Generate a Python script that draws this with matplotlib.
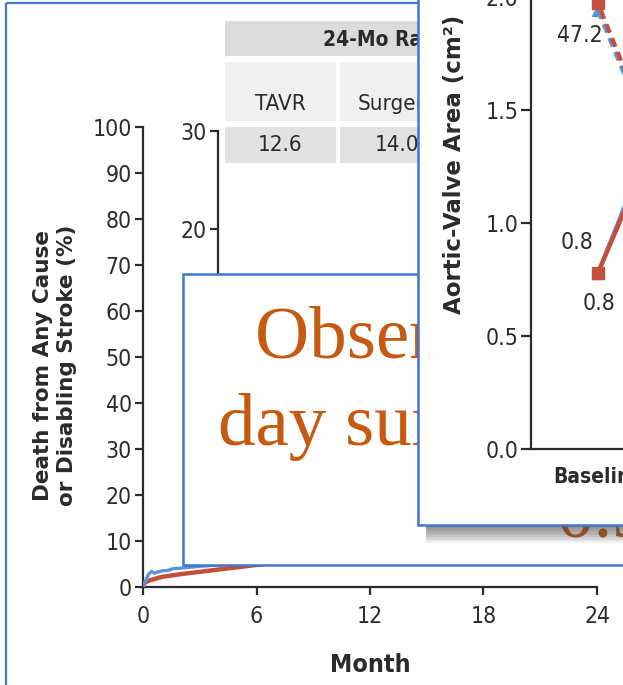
import matplotlib
matplotlib.use("Agg")
import matplotlib.pyplot as plt
from matplotlib.patches import Rectangle

W, H = 623, 685
DPI = 100

# ---------------- data ----------------
months_red = [0, 0.1, 0.4, 1, 2, 3, 4, 5, 6, 9, 12, 18, 24]
rate_red = [0, 1.0, 1.5, 2.2, 2.8, 3.3, 3.8, 4.3, 4.8, 6.5, 8.5, 11.0, 14.0]
months_blue = [0, 0.15, 0.3, 0.45, 0.6, 0.8, 1.0, 1.3, 1.6, 2.0, 2.5, 3, 4, 6, 12, 18, 24]
rate_blue = [0, 1.5, 2.8, 3.4, 3.0, 3.3, 3.5, 3.6, 4.0, 4.1, 4.3, 4.5, 4.8, 5.5, 8.0, 10.5, 12.6]

main_yticks = [0, 10, 20, 30, 40, 50, 60, 70, 80, 90, 100]
inset_yticks = [0, 10, 20, 30]
month_ticks = [0, 6, 12, 18, 24]

table_header = "24-Mo Rate (%)"
table_cols = ["TAVR", "Surgery"]
table_vals = ["12.6", "14.0"]

ava_cats = ["Baseline", "30 Days", "1 Yr", "2 Yr"]
ava_blue = [0.78, 1.72, 1.70, 1.66]
ava_red = [0.78, 1.65, 1.62, 1.58]
grad_blue = [47.2, 12.0, 11.5, 11.0]
grad_red = [48.4, 12.5, 12.0, 11.8]
ava_yticks = [0.0, 0.5, 1.0, 1.5, 2.0]

overlay_lines = ["Observed 30-", "day surgical mortality", "0.3%"]

# ---------------- style ----------------
NF = dict(family="DejaVu Sans", fontstretch="condensed")
SERIF = ["Liberation Serif", "DejaVu Serif"]
RED = "#C4503C"
BLUE = "#5B95D3"
BORDER = "#3F77D0"
ORANGE = "#C55A11"
INK = "#2B2B2B"

fig = plt.figure(figsize=(W / DPI, H / DPI), dpi=DPI)
fig.patch.set_facecolor("white")


def ax_px(x0, y0, x1, y1, z):
    a = fig.add_axes([x0 / W, 1 - y1 / H, (x1 - x0) / W, (y1 - y0) / H])
    a.set_zorder(z)
    a.patch.set_visible(False)
    return a


def overlay(z):
    a = fig.add_axes([0, 0, 1, 1])
    a.set_xlim(0, W)
    a.set_ylim(H, 0)
    a.axis("off")
    a.set_zorder(z)
    a.patch.set_visible(False)
    return a


def narrow(labels, weight="normal"):
    for lab in labels:
        lab.set_family(NF["family"])
        lab.set_fontstretch(NF["fontstretch"])
        lab.set_fontweight(weight)


# ---------- background layer: outer frame + table + axis titles ----------
bg = overlay(0)
bg.add_patch(Rectangle((6, 3), 900, 900, fill=False, ec=BORDER, lw=1.6))
bg.add_patch(Rectangle((225, 21), 500, 35, fc="#DCDCDC", ec="none"))
bg.add_patch(Rectangle((225, 62), 111, 59, fc="#F0F0F0", ec="none"))
bg.add_patch(Rectangle((340, 62), 114, 59, fc="#F0F0F0", ec="none"))
bg.add_patch(Rectangle((225, 127), 111, 36, fc="#E2E2E2", ec="none"))
bg.add_patch(Rectangle((340, 127), 114, 36, fc="#E2E2E2", ec="none"))
bg.text(323, 40, table_header, ha="left", va="center", fontsize=15,
        fontweight="bold", color=INK, **NF)
for cx, c, v in zip([280, 397], table_cols, table_vals):
    bg.text(cx, 104, c, ha="center", va="center", fontsize=16, color=INK, **NF)
    bg.text(cx, 145, v, ha="center", va="center", fontsize=16, color=INK, **NF)
bg.text(55, 365, "Death from Any Cause\nor Disabling Stroke (%)", rotation=90,
        ha="center", va="center", fontsize=15.5, fontweight="bold",
        family="DejaVu Sans", color=INK, linespacing=1.25)
bg.text(370, 665, "Month", ha="center", va="center", fontsize=18,
        fontweight="bold", color=INK, **NF)

# ---------- main Kaplan-Meier axes ----------
ax = ax_px(143, 127, 597, 587, 1)
ax.plot(months_red, rate_red, color=RED, lw=3.2, solid_capstyle="round", zorder=3)
ax.plot(months_blue, rate_blue, color=BLUE, lw=2.4, zorder=4)
ax.set_yticks(main_yticks)
ax.set_xticks(month_ticks)
ax.set_xlim(0, 24)
ax.set_ylim(0, 100)
for s in ["top", "right"]:
    ax.spines[s].set_visible(False)
for s in ["left", "bottom"]:
    ax.spines[s].set_linewidth(1.6)
    ax.spines[s].set_color(INK)
ax.tick_params(direction="out", length=6, width=1.6, color=INK, labelcolor=INK,
               labelsize=16.5, pad=2)
ax.tick_params(axis="x", pad=7)
narrow(ax.get_xticklabels() + ax.get_yticklabels())

# inset axis (0-30)
axi = ax_px(218, 131, 597, 425, 1)
axi.set_yticks(inset_yticks)
axi.set_xticks([])
axi.set_ylim(0, 30)
axi.set_xlim(0, 24)
for s in ["top", "right", "bottom"]:
    axi.spines[s].set_visible(False)
axi.spines["left"].set_linewidth(1.6)
axi.spines["left"].set_color(INK)
axi.tick_params(direction="out", length=6, width=1.6, color=INK, labelcolor=INK,
                labelsize=16.5, pad=2)
narrow(axi.get_yticklabels())

# ---------- overlay text box ----------
bx = overlay(2)
bx.add_patch(Rectangle((183, 274), 900, 291, fc="white", ec=BORDER, lw=1.8))
bx.text(255, 358, overlay_lines[0], ha="left", va="baseline", fontsize=54,
        family=SERIF, color=ORANGE)
bx.text(218, 445, overlay_lines[1], ha="left", va="baseline", fontsize=54,
        family=SERIF, color=ORANGE)
bx.text(556, 537, overlay_lines[2], ha="left", va="baseline", fontsize=54,
        family=SERIF, color=ORANGE)

# ---------- right panel frame with shadow ----------
pn = overlay(3)
for i in range(12):
    pn.add_patch(Rectangle((426, -10), 600, 535 + 1 + i * 1.5, fc="#444444",
                           ec="none", alpha=0.07))
pn.add_patch(Rectangle((418, -10), 600, 535, fc="white", ec=BORDER, lw=1.8))
pn.text(454, 164, "Aortic-Valve Area (cm²)", rotation=90, ha="center",
        va="center", fontsize=16.5, fontweight="bold", family="DejaVu Sans",
        color=INK)

# ---------- right panel chart ----------
ar = ax_px(531, -3, 800, 449, 4)
xs = list(range(len(ava_cats)))
ar.plot(xs, ava_blue, color=BLUE, lw=2.6, marker="^", ms=9, zorder=3)
ar.plot(xs, ava_red, color=RED, lw=3.2, marker="s", ms=9, zorder=4)

ar2 = ar.twinx()
ar2.set_zorder(5)
ar2.patch.set_visible(False)
ar2.plot(xs, grad_blue, color=BLUE, lw=3.0, ls=(0, (2.2, 1.4)), marker="^", ms=9, zorder=3)
ar2.plot(xs, grad_red, color=RED, lw=3.0, ls=(1.8, (2.2, 1.4)), marker="s", ms=9, zorder=4)
ar2.set_yticks([])
ar2.set_ylim(-28.5, 49.5)
for s in ar2.spines.values():
    s.set_visible(False)

ar.set_yticks(ava_yticks)
ar.set_yticklabels([f"{v:.1f}" for v in ava_yticks])
ar.set_xticks(xs)
ar.set_xticklabels(ava_cats)
ar.set_ylim(0, 2.0)
ar.set_xlim(-67 / 84, 202 / 84)
for s in ["top", "right"]:
    ar.spines[s].set_visible(False)
for s in ["left", "bottom"]:
    ar.spines[s].set_linewidth(1.6)
    ar.spines[s].set_color(INK)
ar.tick_params(axis="y", direction="out", length=7, width=1.6, color=INK,
               labelcolor=INK, labelsize=16.5, pad=2)
ar.tick_params(axis="x", length=0, labelsize=15, labelcolor=INK, pad=13)
narrow(ar.get_yticklabels())
narrow(ar.get_xticklabels(), weight="bold")

ar.annotate(f"{ava_blue[0]:.1f}", xy=(0, ava_blue[0]), xytext=(-15, 22),
            textcoords="offset points", ha="center", va="center", fontsize=16.5,
            color=INK, **NF)
ar.annotate(f"{ava_red[0]:.1f}", xy=(0, ava_red[0]), xytext=(1, -22),
            textcoords="offset points", ha="center", va="center", fontsize=16.5,
            color=INK, **NF)
ar2.annotate(f"{grad_blue[0]:.1f}", xy=(0, grad_blue[0]), xytext=(-13, -18),
             textcoords="offset points", ha="center", va="center", fontsize=16.5,
             color=INK, **NF)

fig.savefig("out.png", dpi=DPI, facecolor="white")
